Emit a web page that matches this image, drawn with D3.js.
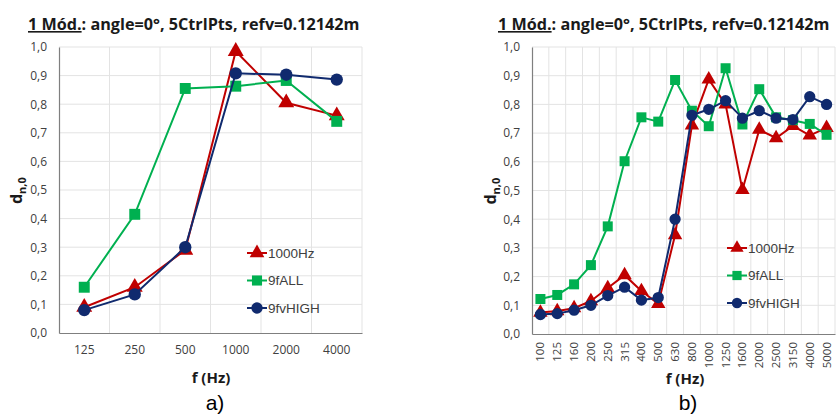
<!DOCTYPE html>
<html>
<head>
<meta charset="utf-8">
<script src="https://cdn.jsdelivr.net/npm/d3@7"></script>
<style>
  body { margin: 0; background: #fff; }
  svg { display: block; }
</style>
</head>
<body>
<svg width="838" height="417"></svg>
<script>
// chart a) - octave bands
const freqsA = ['125', '250', '500', '1000', '2000', '4000'];
const hz1000A = [0.09, 0.16, 0.29, 0.985, 0.805, 0.76];
const fAllA = [0.16, 0.415, 0.855, 0.863, 0.883, 0.74];
const fvHighA = [0.08, 0.135, 0.30, 0.908, 0.903, 0.886];

// chart b) - third octave bands
const freqsB = ['100', '125', '160', '200', '250', '315', '400', '500', '630', '800',
    '1000', '1250', '1600', '2000', '2500', '3150', '4000', '5000'];
const hz1000B = [0.075, 0.08, 0.09, 0.115, 0.16, 0.205, 0.15, 0.105, 0.345, 0.727,
    0.887, 0.80, 0.502, 0.712, 0.683, 0.725, 0.692, 0.718];
const fAllB = [0.122, 0.136, 0.173, 0.24, 0.375, 0.602, 0.755, 0.74, 0.885, 0.778,
    0.724, 0.926, 0.73, 0.853, 0.755, 0.745, 0.732, 0.694];
const fvHighB = [0.068, 0.071, 0.083, 0.10, 0.134, 0.163, 0.118, 0.127, 0.40, 0.762,
    0.783, 0.813, 0.752, 0.778, 0.752, 0.747, 0.827, 0.80];

const yTicks = [0, 0.1, 0.2, 0.3, 0.4, 0.5, 0.6, 0.7, 0.8, 0.9, 1.0];
const seriesNames = ['1000Hz', '9fALL', '9fvHIGH'];
const seriesColors = ['#c00000', '#00b050', '#102a6e'];
const seriesSymbols = [d3.symbolTriangle, d3.symbolSquare, d3.symbolCircle];

const svg = d3.select('svg');
const fmt = v => d3.format('.1f')(v).replace('.', ',');

function drawChart(opts) {
    const x = d3.scaleBand()
        .domain(opts.freqs)
        .range([opts.left, opts.right]);
    const y = d3.scaleLinear()
        .domain([0, 1])
        .range([opts.bottom, opts.top]);

    const g = svg.append('g');

    // grid
    g.append('g')
        .selectAll('line.h')
        .data(yTicks.slice(1))
        .join('line')
            .attr('x1', opts.left)
            .attr('x2', opts.right)
            .attr('y1', d => y(d))
            .attr('y2', d => y(d))
            .attr('stroke', '#e3e3e3')
            .attr('stroke-width', 1);
    g.append('g')
        .selectAll('line.v')
        .data(opts.freqs.slice(1).concat(['end']))
        .join('line')
            .attr('x1', (d, i) => opts.left + x.step() * (i + 1))
            .attr('x2', (d, i) => opts.left + x.step() * (i + 1))
            .attr('y1', opts.top)
            .attr('y2', opts.bottom)
            .attr('stroke', '#e3e3e3')
            .attr('stroke-width', 1);

    // y axis
    const yAxis = g.append('g')
        .attr('transform', `translate(${opts.left},0)`)
        .call(d3.axisLeft(y).tickValues(yTicks).tickFormat(fmt).tickSize(0).tickPadding(12));
    yAxis.select('.domain').attr('stroke', '#7f7f7f').attr('stroke-width', 1.2);
    yAxis.selectAll('text')
        .attr('font-family', 'Open Sans')
        .attr('font-size', 12)
        .attr('fill', '#404040');

    // x axis
    const xAxis = g.append('g')
        .attr('transform', `translate(0,${opts.bottom})`)
        .call(d3.axisBottom(x).tickSize(0).tickPadding(opts.rotate ? 8 : 12));
    xAxis.select('.domain').attr('stroke', '#7f7f7f').attr('stroke-width', 1.2);
    xAxis.selectAll('text')
        .attr('font-family', 'Open Sans')
        .attr('font-size', opts.rotate ? 11.5 : 12)
        .attr('fill', '#404040');
    if (opts.rotate) {
        xAxis.selectAll('text')
            .attr('transform', 'rotate(-90)')
            .attr('text-anchor', 'end')
            .attr('x', -8)
            .attr('y', 0)
            .attr('dy', '0.35em');
    }

    // series
    const allSeries = [opts.hz1000, opts.fAll, opts.fvHigh];
    const line = d3.line()
        .x((d, i) => x(opts.freqs[i]) + x.bandwidth() / 2)
        .y(d => y(d));
    allSeries.forEach((vals, s) => {
        g.append('path')
            .datum(vals)
            .attr('fill', 'none')
            .attr('stroke', seriesColors[s])
            .attr('stroke-width', 2)
            .attr('d', line);
        g.append('g')
            .selectAll('path')
            .data(vals)
            .join('path')
                .attr('transform', (d, i) => `translate(${x(opts.freqs[i]) + x.bandwidth() / 2},${y(d)})`)
                .attr('d', d3.symbol().type(seriesSymbols[s]).size(opts.markSize[s]))
                .attr('fill', seriesColors[s]);
    });

    // legend
    seriesNames.forEach((name, s) => {
        const ly = opts.legendY + s * 27.5;
        const lg = g.append('g').attr('transform', `translate(${opts.legendX},${ly})`);
        lg.append('line')
            .attr('x1', -10).attr('x2', 10)
            .attr('stroke', seriesColors[s])
            .attr('stroke-width', 2);
        lg.append('path')
            .attr('d', d3.symbol().type(seriesSymbols[s]).size(opts.markSize[s] * 0.85))
            .attr('fill', seriesColors[s]);
        lg.append('text')
            .attr('x', 11)
            .attr('dy', '0.36em')
            .attr('font-family', 'Liberation Sans')
            .attr('font-size', 13.5)
            .attr('fill', '#404040')
            .text(name);
    });

    // title
    const title = g.append('text')
        .attr('x', opts.titleX)
        .attr('y', 30)
        .attr('font-family', 'Open Sans')
        .attr('font-weight', 'bold')
        .attr('font-size', 16.2)
        .attr('fill', '#1a1a1a');
    title.append('tspan').attr('text-decoration', 'underline').text('1 Mód.');
    title.append('tspan').text(': angle=0°, 5CtrlPts, refv=0.12142m');

    // y label
    const yl = g.append('text')
        .attr('transform', `translate(${opts.yLabelX},${(opts.top + opts.bottom) / 2 + 14}) rotate(-90)`)
        .attr('font-family', 'Open Sans')
        .attr('font-weight', 'bold')
        .attr('font-size', 16)
        .attr('fill', '#1a1a1a');
    yl.append('tspan').text('d');
    yl.append('tspan').attr('font-size', 11).attr('dy', 4).text('n,0');

    // x label
    g.append('text')
        .attr('x', opts.xLabelX)
        .attr('y', opts.xLabelY)
        .attr('text-anchor', 'middle')
        .attr('font-family', 'Open Sans')
        .attr('font-weight', 'bold')
        .attr('font-size', 15)
        .attr('fill', '#1a1a1a')
        .text('f (Hz)');

    // panel letter
    g.append('text')
        .attr('x', opts.letterX)
        .attr('y', 410)
        .attr('text-anchor', 'middle')
        .attr('font-family', 'Liberation Sans')
        .attr('font-size', 21)
        .attr('fill', '#000')
        .text(opts.letter);
}

drawChart({
    freqs: freqsA, hz1000: hz1000A, fAll: fAllA, fvHigh: fvHighA,
    left: 59, right: 362, top: 47, bottom: 333,
    markSize: [110, 120, 120],
    legendX: 257, legendY: 253,
    titleX: 28, yLabelX: 22, xLabelX: 211, xLabelY: 383,
    letterX: 215, letter: 'a)', rotate: false
});

drawChart({
    freqs: freqsB, hz1000: hz1000B, fAll: fAllB, fvHigh: fvHighB,
    left: 532, right: 835, top: 47, bottom: 334,
    markSize: [90, 100, 100],
    legendX: 737, legendY: 248,
    titleX: 498, yLabelX: 496, xLabelX: 685, xLabelY: 384,
    letterX: 688, letter: 'b)', rotate: true
});
</script>
</body>
</html>
